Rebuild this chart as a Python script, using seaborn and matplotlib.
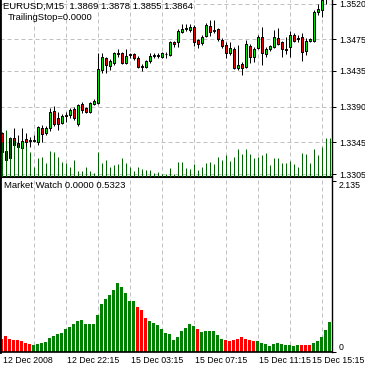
import numpy as np
import pandas as pd
import matplotlib
matplotlib.use("Agg")
import matplotlib.pyplot as plt
import seaborn as sns
from matplotlib.transforms import ScaledTranslation

# ---------------- data ----------------
opens = [1.3357, 1.3334, 1.3325, 1.3350, 1.3344, 1.3338, 1.3349, 1.3348, 1.3347, 1.3345,
         1.3363, 1.3357, 1.3363, 1.3385, 1.3376, 1.3369, 1.3378, 1.3380, 1.3387, 1.3368,
         1.3393, 1.3388, 1.3383, 1.3393, 1.3395, 1.3436, 1.3451, 1.3441, 1.3445, 1.3458,
         1.3458, 1.3445, 1.3455, 1.3456, 1.3451, 1.3440, 1.3440, 1.3448, 1.3454, 1.3455,
         1.3453, 1.3457, 1.3455, 1.3472, 1.3472, 1.3484, 1.3489, 1.3487, 1.3491, 1.3474,
         1.3470, 1.3479, 1.3492, 1.3487, 1.3488, 1.3474, 1.3468, 1.3458, 1.3463, 1.3439,
         1.3444, 1.3440, 1.3467, 1.3453, 1.3464, 1.3478, 1.3456, 1.3463, 1.3465, 1.3477,
         1.3472, 1.3463, 1.3465, 1.3480, 1.3476, 1.3478, 1.3460, 1.3473, 1.3473, 1.3509,
         1.3512, 1.3528, 1.3527]
highs = [1.3358, 1.3335, 1.3352, 1.3363, 1.3354, 1.3363, 1.3357, 1.3352, 1.3354, 1.3366,
         1.3367, 1.3366, 1.3388, 1.3391, 1.3383, 1.3381, 1.3383, 1.3388, 1.3390, 1.3393,
         1.3396, 1.3390, 1.3396, 1.3400, 1.3458, 1.3458, 1.3453, 1.3450, 1.3459, 1.3463,
         1.3459, 1.3463, 1.3458, 1.3458, 1.3454, 1.3444, 1.3449, 1.3458, 1.3458, 1.3458,
         1.3459, 1.3459, 1.3473, 1.3473, 1.3488, 1.3494, 1.3494, 1.3494, 1.3493, 1.3475,
         1.3480, 1.3496, 1.3499, 1.3499, 1.3489, 1.3477, 1.3472, 1.3472, 1.3465, 1.3468,
         1.3446, 1.3474, 1.3469, 1.3465, 1.3480, 1.3491, 1.3465, 1.3468, 1.3487, 1.3489,
         1.3473, 1.3478, 1.3485, 1.3483, 1.3480, 1.3483, 1.3477, 1.3477, 1.3512, 1.3520,
         1.3531, 1.3537, 1.3550]
lows = [1.3329, 1.3320, 1.3323, 1.3333, 1.3335, 1.3332, 1.3338, 1.3339, 1.3345, 1.3342,
        1.3345, 1.3354, 1.3359, 1.3366, 1.3361, 1.3368, 1.3371, 1.3376, 1.3373, 1.3366,
        1.3382, 1.3382, 1.3382, 1.3392, 1.3393, 1.3433, 1.3433, 1.3436, 1.3443, 1.3453,
        1.3444, 1.3444, 1.3451, 1.3449, 1.3439, 1.3435, 1.3439, 1.3445, 1.3451, 1.3451,
        1.3451, 1.3451, 1.3454, 1.3465, 1.3465, 1.3483, 1.3485, 1.3484, 1.3467, 1.3464,
        1.3468, 1.3478, 1.3479, 1.3483, 1.3473, 1.3464, 1.3451, 1.3455, 1.3438, 1.3436,
        1.3430, 1.3439, 1.3445, 1.3446, 1.3463, 1.3443, 1.3453, 1.3460, 1.3464, 1.3468,
        1.3453, 1.3456, 1.3453, 1.3472, 1.3472, 1.3448, 1.3455, 1.3472, 1.3472, 1.3506,
        1.3503, 1.3520, 1.3526]
closes = [1.3333, 1.3323, 1.3350, 1.3342, 1.3339, 1.3347, 1.3345, 1.3347, 1.3348, 1.3364,
          1.3356, 1.3363, 1.3383, 1.3368, 1.3368, 1.3378, 1.3380, 1.3386, 1.3376, 1.3392,
          1.3386, 1.3383, 1.3395, 1.3397, 1.3438, 1.3453, 1.3443, 1.3448, 1.3458, 1.3456,
          1.3445, 1.3454, 1.3456, 1.3451, 1.3440, 1.3441, 1.3448, 1.3454, 1.3455, 1.3454,
          1.3458, 1.3456, 1.3472, 1.3469, 1.3485, 1.3488, 1.3488, 1.3491, 1.3472, 1.3469,
          1.3478, 1.3493, 1.3484, 1.3486, 1.3475, 1.3467, 1.3458, 1.3464, 1.3439, 1.3443,
          1.3439, 1.3469, 1.3453, 1.3463, 1.3478, 1.3458, 1.3463, 1.3467, 1.3478, 1.3469,
          1.3463, 1.3462, 1.3480, 1.3473, 1.3477, 1.3459, 1.3473, 1.3475, 1.3509, 1.3513,
          1.3525, 1.3527, 1.3544]
volumes = [350, 470, 390, 370, 330, 300, 310, 250, 100, 190,
           200, 140, 260, 250, 200, 150, 140, 100, 170, 60,
           60, 100, 60, 40, 250, 140, 170, 100, 120, 130,
           190, 140, 100, 60, 100, 80, 70, 70, 40, 50,
           30, 30, 90, 30, 150, 150, 90, 80, 130, 70,
           100, 140, 150, 130, 200, 170, 220, 160, 200, 280,
           230, 280, 230, 190, 200, 220, 240, 120, 190, 190,
           140, 140, 160, 130, 100, 240, 230, 140, 280, 220,
           300, 390, 390]
mw_values = [0.166, 0.200, 0.166, 0.150, 0.150, 0.137, 0.116, 0.104, 0.087, 0.104,
             0.116, 0.129, 0.179, 0.200, 0.221, 0.241, 0.283, 0.312, 0.346, 0.387,
             0.396, 0.346, 0.346, 0.353, 0.458, 0.596, 0.658, 0.708, 0.774, 0.861,
             0.812, 0.740, 0.637, 0.637, 0.566, 0.524, 0.428, 0.387, 0.358, 0.333,
             0.291, 0.241, 0.221, 0.146, 0.191, 0.262, 0.303, 0.353, 0.325, 0.291,
             0.250, 0.262, 0.262, 0.262, 0.212, 0.159, 0.150, 0.137, 0.150, 0.166,
             0.191, 0.159, 0.150, 0.137, 0.137, 0.116, 0.104, 0.075, 0.104, 0.116,
             0.104, 0.087, 0.087, 0.075, 0.087, 0.087, 0.087, 0.087, 0.116, 0.137,
             0.187, 0.275, 0.375]
red_bars = list(range(0, 8)) + [34, 35, 36, 49] + list(range(56, 64)) + [75, 76, 77]
mw_dir = ["down" if i in red_bars else "up" for i in range(len(mw_values))]

price_ticks = [1.3305, 1.3345, 1.3390, 1.3435, 1.3475, 1.3520]
price_labels = ["1.3305", "1.3345", "1.3390", "1.3435", "1.3475", "1.3520"]
mw_ticks = [0, 2.135]
mw_labels = ["0", "2.135"]
time_pos = [0, 16, 32, 48, 64, 80]
time_labels = ["12 Dec 2008", "12 Dec 22:15", "15 Dec 03:15",
               "15 Dec 07:15", "15 Dec 11:15", "15 Dec 15:15"]
header = "EURUSD,M15  1.3869 1.3878 1.3855 1.3864"
sub_header = "TrailingStop=0.0000"
ind_header = "Market Watch 0.0000 0.5323"

# ---------------- style ----------------
sns.set_theme(style="white")
plt.rcParams['font.family'] = ['Liberation Sans', 'DejaVu Sans']
FS = 6.8
FST = 6.3
BULL, BEAR = "#00e000", "#e40000"
VOLC = "#006400"
GRID = "#c0c0c0"
PX = 0.72  # one pixel in points

W = 365.0
fig = plt.figure(figsize=(3.65, 3.65), dpi=100)
fig.patch.set_facecolor("white")
ax1 = fig.add_axes([0, 1 - 177.5 / W, 332 / W, 177.5 / W])
ax2 = fig.add_axes([0, 1 - 352 / W, 332 / W, (352 - 179) / W])
axv = ax1.twinx()

n = len(opens)
idx = np.arange(n)
xl = (-0.425, 82.575)

# ---------------- top panel: candles ----------------
o = np.array(opens); c = np.array(closes)
bull = c >= o
ax1.vlines(idx, lows, highs, color="black", lw=PX, zorder=2)
ax1.bar(idx, np.abs(c - o), bottom=np.minimum(o, c), width=0.5,
        color=np.where(bull, BULL, BEAR), edgecolor="black", linewidth=PX, zorder=3)
ax1.set_xlim(*xl)
ax1.set_ylim(1.33006, 1.35246)
for v in price_ticks:
    ax1.axhline(v, color=GRID, lw=PX, ls=(0, (4, 3)), zorder=0)
for b in range(8, 81, 8):
    ax1.axvline(b, color=GRID, lw=PX, ls=(0, (4, 3)), zorder=0)

# volumes drawn over the candles
axv.vlines(idx, 0, volumes, color=VOLC, lw=PX, zorder=4)
axv.set_ylim(0, 1775)
axv.set_xlim(*xl)
axv.set_yticks([])
axv.tick_params(axis="both", which="both", left=False, right=False,
                labelleft=False, labelright=False)
for s in axv.spines.values():
    s.set_visible(False)

ax1.set_yticks(price_ticks)
ax1.set_yticklabels(price_labels, fontsize=FST)
ax1.set_xticks([])
ax1.tick_params(axis="y", direction="out", length=3, width=PX, pad=2, colors="black",
                left=False, labelleft=False, right=True, labelright=True)
ax1.spines["top"].set_visible(False)
ax1.spines["left"].set_linewidth(2)
ax1.spines["right"].set_linewidth(1.0)
ax1.spines["bottom"].set_linewidth(1.5)
for s in ax1.spines.values():
    s.set_color("black")

# ---------------- bottom panel: histogram ----------------
df = pd.DataFrame({"bar": idx, "value": mw_values, "dir": mw_dir})
sns.barplot(data=df, x="bar", y="value", hue="dir",
            palette={"up": "#008000", "down": "#ff0000"}, dodge=False,
            width=0.75, legend=False, ax=ax2, linewidth=0, saturation=1)
ax2.set_xlim(*xl)
ax2.set_ylim(0, 2.16)
ax2.set_xlabel(""); ax2.set_ylabel("")
for b in range(8, 81, 8):
    ax2.axvline(b, color=GRID, lw=PX, ls=(0, (4, 3)), zorder=0)
ax2.set_yticks(mw_ticks)
ax2.set_yticklabels(mw_labels, fontsize=FST)
ax2.tick_params(axis="y", direction="out", length=3, width=PX, pad=2, colors="black",
                left=False, labelleft=False, right=True, labelright=True)
for t in ax2.yaxis.get_major_ticks():
    t.label2.set_va("bottom" if t.label2.get_text() == "0" else "top")
ax2.set_xticks(time_pos)
# last label is placed against the right edge so that it stays whole
ax2.set_xticklabels(time_labels[:-1] + [""], fontsize=FST)
ax2.tick_params(axis="x", direction="out", length=2.5, width=PX, pad=0.3, colors="black")
off = ScaledTranslation(1.5 / 100, 0, fig.dpi_scale_trans)
for lbl in ax2.get_xticklabels():
    lbl.set_ha("left")
    lbl.set_transform(lbl.get_transform() + off)
fig.text(364 / W, 1 - 355.8 / W, time_labels[-1], ha="right", va="top",
         fontsize=FST, color="black")
ax2.spines["top"].set_visible(False)
ax2.spines["left"].set_linewidth(2)
ax2.spines["right"].set_linewidth(1.0)
ax2.spines["bottom"].set_linewidth(1.2)
for s in ax2.spines.values():
    s.set_color("black")

# ---------------- texts ----------------
fig.text(3 / W, 1 - 1.5 / W, header, ha="left", va="top", fontsize=FS, color="black")
fig.text(8 / W, 1 - 12.5 / W, sub_header, ha="left", va="top", fontsize=FS, color="black")
fig.text(4 / W, 1 - 181.5 / W, ind_header, ha="left", va="top", fontsize=FS, color="black")

fig.savefig("out.png", dpi=100, facecolor="white")
